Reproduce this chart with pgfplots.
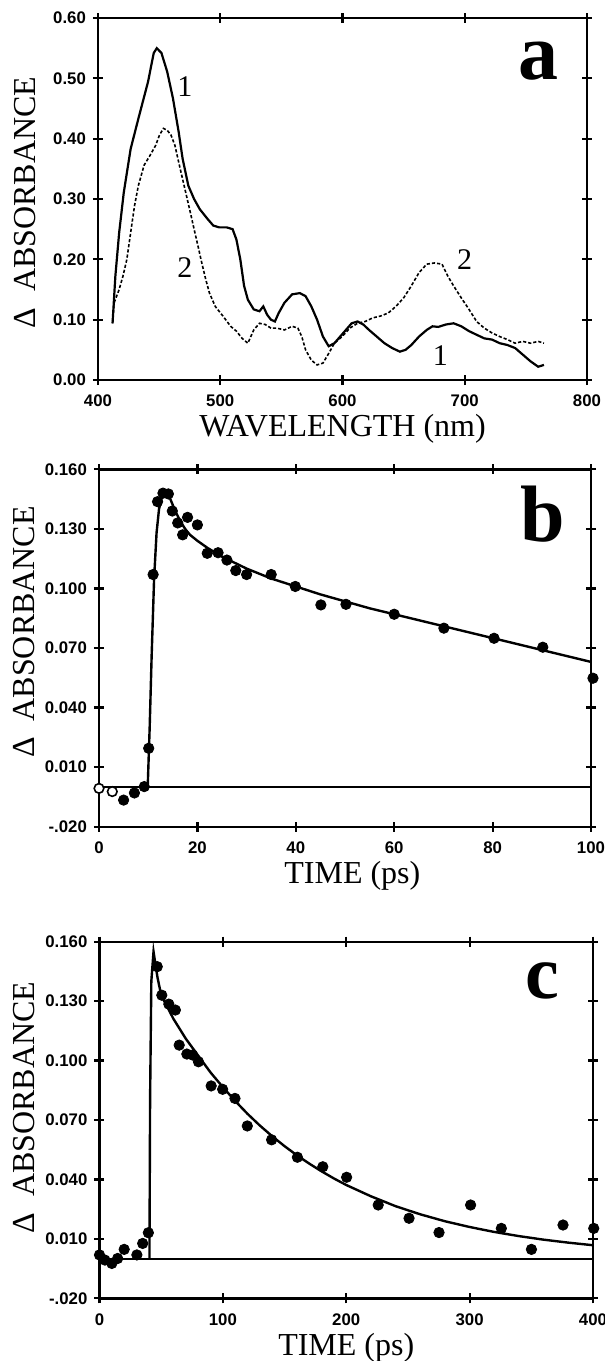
\documentclass[border=0pt]{standalone}
\usepackage{fontspec}
\setmainfont{Liberation Serif}
\newfontfamily\tickfont{Liberation Sans}
\usepackage{pgfplots}
\pgfplotsset{compat=1.18}
\pgfplotsset{
 panel/.style={
  scale only axis, clip=false,
  axis line style={line width=1.2pt},
  every tick/.style={line width=1.1pt, black},
  tick align=center, major tick length=5pt,
  ticklabel style={font=\tickfont\bfseries\fontsize{8.4}{10}\selectfont},
  /pgf/number format/assume math mode=true,
  label style={font=\fontsize{16}{18}\selectfont},
  xlabel style={at={(axis description cs:0.5,0)}, anchor=center, yshift=-24.5pt},
  xticklabel style={yshift=-1.5pt},
 },
 fit/.style={black, line width=1.2pt, no marks},
 dots/.style={only marks, mark=*, mark size=2.6pt, mark options={fill=black, draw=black}},
}
\begin{document}
\begin{tikzpicture}
\path[use as bounding box] (0,0) rectangle (302.5pt,-680.5pt);
% ---------------- panel a
\begin{axis}[panel, at={(49pt,-190pt)}, anchor=south west, width=244.5pt, height=181pt,
 xmin=400, xmax=800, ymin=0, ymax=0.6,
 xtick={400,500,600,700,800}, xticklabels={400,500,600,700,800},
 ytick={0,0.1,0.2,0.3,0.4,0.5,0.6}, yticklabels={0.00,0.10,0.20,0.30,0.40,0.50,0.60},
 xlabel={WAVELENGTH (nm)},
 ylabel={Δ\ \ ABSORBANCE},
 ylabel style={at={(axis description cs:-0.15,0.49)}, anchor=center},
]
\addplot[black, line width=1.1pt] coordinates {
(411.9,0.094)(414.2,0.172)(417.3,0.244)(421.1,0.311)(426.7,0.383)(433.0,0.433)
(440.9,0.494)(445.6,0.542)(448.1,0.550)(451.9,0.542)(456.6,0.511)(461.3,0.467)
(466.0,0.411)(469.2,0.367)(473.9,0.322)(478.6,0.300)(483.3,0.283)(489.6,0.267)
(494.3,0.256)(499.1,0.253)(505.3,0.253)(510.1,0.250)(513.2,0.233)(516.4,0.200)
(519.5,0.156)(522.6,0.133)(527.4,0.117)(532.1,0.114)(535.2,0.122)(538.4,0.108)
(541.5,0.100)(544.7,0.097)(547.8,0.111)(552.5,0.128)(558.8,0.142)(565.1,0.144)
(569.8,0.139)(574.5,0.122)(579.2,0.100)(584.0,0.072)(588.7,0.056)(593.4,0.061)
(598.1,0.072)(602.8,0.083)(607.5,0.094)(612.3,0.097)(617.0,0.092)(621.7,0.083)
(628.0,0.072)(634.3,0.061)(640.6,0.053)(646.9,0.047)(651.6,0.050)(656.3,0.058)
(662.6,0.072)(668.9,0.083)(673.6,0.089)(678.3,0.088)(684.6,0.092)(690.9,0.094)
(697.2,0.089)(703.5,0.081)(709.7,0.075)(716.0,0.069)(722.3,0.067)(728.6,0.061)
(734.9,0.058)(741.2,0.053)(747.5,0.042)(753.8,0.031)(760.1,0.022)(764.8,0.025)
};
\addplot[black, line width=0.8pt, dash pattern=on 1.6pt off 1pt] coordinates {
(411.9,0.094)(413.2,0.128)(417.3,0.150)(420.4,0.172)(423.6,0.200)(426.7,0.244)
(429.9,0.289)(433.0,0.322)(437.7,0.356)(442.5,0.372)(447.2,0.389)(450.3,0.406)
(453.5,0.417)(456.6,0.414)(459.7,0.406)(462.9,0.389)(466.0,0.361)(469.2,0.333)
(472.3,0.306)(475.5,0.278)(478.6,0.250)(481.8,0.222)(484.9,0.194)(488.1,0.167)
(491.2,0.144)(495.9,0.122)(502.2,0.106)(508.5,0.089)(513.2,0.081)(517.9,0.069)
(522.6,0.061)(527.4,0.083)(532.1,0.094)(536.8,0.092)(541.5,0.086)(546.2,0.086)
(552.5,0.083)(558.8,0.089)(563.5,0.086)(566.7,0.072)(569.8,0.050)(574.5,0.033)
(579.2,0.025)(584.0,0.028)(588.7,0.044)(593.4,0.061)(599.7,0.072)(606.0,0.086)
(612.3,0.094)(618.6,0.097)(624.8,0.103)(631.1,0.106)(637.4,0.111)(643.7,0.122)
(650.0,0.136)(656.3,0.156)(662.6,0.178)(668.9,0.192)(675.2,0.194)(681.4,0.192)
(686.2,0.172)(690.9,0.156)(697.2,0.136)(703.5,0.117)(709.7,0.097)(716.0,0.086)
(722.3,0.078)(728.6,0.072)(734.9,0.067)(741.2,0.061)(747.5,0.064)(753.8,0.061)
(760.1,0.064)(764.8,0.061)
};
\node[font=\fontsize{15}{17}\selectfont] at (axis cs:471,0.486) {1};
\node[font=\fontsize{15}{17}\selectfont] at (axis cs:471,0.186) {2};
\node[font=\fontsize{15}{17}\selectfont] at (axis cs:700,0.199) {2};
\node[font=\fontsize{15}{17}\selectfont] at (axis cs:680,0.041) {1};
\node[font=\bfseries\fontsize{40}{44}\selectfont] at (rel axis cs:0.90,0.88) {a};
\end{axis}
% ---------------- panel b
\begin{axis}[panel, at={(49.5pt,-413.35pt)}, anchor=south west, width=246pt, height=178.7pt,
 xmin=0, xmax=100, ymin=-0.02, ymax=0.16,
 xtick={0,20,40,60,80,100}, xticklabels={0,20,40,60,80,100},
 ytick={-0.02,0.01,0.04,0.07,0.10,0.13,0.16}, yticklabels={-.020,0.010,0.040,0.070,0.100,0.130,0.160},
 xlabel={TIME (ps)},
 xlabel style={at={(axis description cs:0.515,0)}},
 ylabel={Δ\ \ ABSORBANCE},
 ylabel style={at={(axis description cs:-0.152,0.545)}, anchor=center},
]
\addplot[black, line width=1.1pt] coordinates {(0,0)(100,0)};
\addplot[fit] coordinates {
(9.9,0)(10.3,0.030)(10.7,0.066)(11.2,0.105)(11.7,0.128)(12.2,0.140)(12.8,0.146)
(13.5,0.148)(14.5,0.145)(15.5,0.139)(16.5,0.134)(17.5,0.130)(18.5,0.127)(20,0.124)
(22,0.1205)(25,0.116)(30,0.110)(35,0.105)(40,0.101)(45,0.097)(50,0.0935)(55,0.090)
(60,0.087)(65,0.084)(70,0.081)(75,0.078)(80,0.075)(85,0.072)(90,0.069)(95,0.066)(100,0.063)
};
\addplot[dots] coordinates {
(5,-0.0066)(7.2,-0.003)(9.2,0.0002)(10.1,0.0195)(11.0,0.107)(11.9,0.1437)
(13,0.148)(14.1,0.1476)(14.9,0.139)(16,0.133)(17,0.127)(18,0.1358)(20,0.132)
(22,0.1177)(24.2,0.118)(26,0.1143)(27.8,0.109)(30,0.107)(35,0.107)(39.9,0.101)
(45.1,0.0917)(50.2,0.092)(60,0.087)(70.1,0.080)(80.3,0.0749)(90.2,0.0704)(100.4,0.0548)
};
\addplot[only marks, mark=*, mark size=2.4pt, mark options={fill=white, draw=black, line width=0.8pt}] coordinates {
(0,-0.0007)(2.7,-0.0023)
};
\node[font=\bfseries\fontsize{40}{44}\selectfont] at (rel axis cs:0.902,0.875) {b};
\end{axis}
% ---------------- panel c
\begin{axis}[panel, at={(49.75pt,-649.15pt)}, anchor=south west, width=246.75pt, height=178.3pt,
 xmin=0, xmax=400, ymin=-0.02, ymax=0.16,
 xtick={0,100,200,300,400}, xticklabels={0,100,200,300,400},
 ytick={-0.02,0.01,0.04,0.07,0.10,0.13,0.16}, yticklabels={-.020,0.010,0.040,0.070,0.100,0.130,0.160},
 xlabel={TIME (ps)},
 ylabel={Δ\ \ ABSORBANCE},
 ylabel style={at={(axis description cs:-0.152,0.535)}, anchor=center},
]
\addplot[black, line width=1.1pt] coordinates {(0,0)(400,0)};
\addplot[fit] coordinates {
(40.5,0)(41.0,0.08)(42.0,0.14)(43.8,0.155)(45,0.150)(47,0.142)(50,0.133)(55,0.127)
(60,0.121)(70,0.111)(80,0.1025)(90,0.094)(100,0.0866)(110,0.0796)(120,0.0731)
(130,0.0672)(140,0.0618)(150,0.0568)(160,0.0522)(170,0.048)(180,0.0441)(190,0.0405)
(200,0.0372)(220,0.0315)(240,0.0265)(260,0.0224)(280,0.0189)(300,0.016)(320,0.0135)
(340,0.0114)(360,0.0096)(380,0.0081)(400,0.0068)
};
\addplot[dots] coordinates {
(0,0.0019)(4.4,-0.0007)(10,-0.0024)(14.7,0.0001)(20,0.0047)(30.3,0.0019)(35,0.0077)
(39.6,0.0131)(46.8,0.1474)(50.5,0.133)(56.2,0.1285)(61.5,0.1255)(64.6,0.1078)
(70.8,0.1033)(75.5,0.1028)(80.2,0.0994)(90.5,0.0872)(99.8,0.0855)(109.8,0.0809)
(119.8,0.067)(139.5,0.060)(160.4,0.0512)(181,0.0464)(200.3,0.0411)(225.9,0.0271)
(250.9,0.0204)(275.2,0.0132)(300.8,0.0271)(325.7,0.0153)(350.1,0.0047)(375.7,0.017)(400.6,0.0153)
};
\node[font=\bfseries\fontsize{38}{42}\selectfont] at (rel axis cs:0.897,0.89) {c};
\end{axis}
\end{tikzpicture}
\end{document}
